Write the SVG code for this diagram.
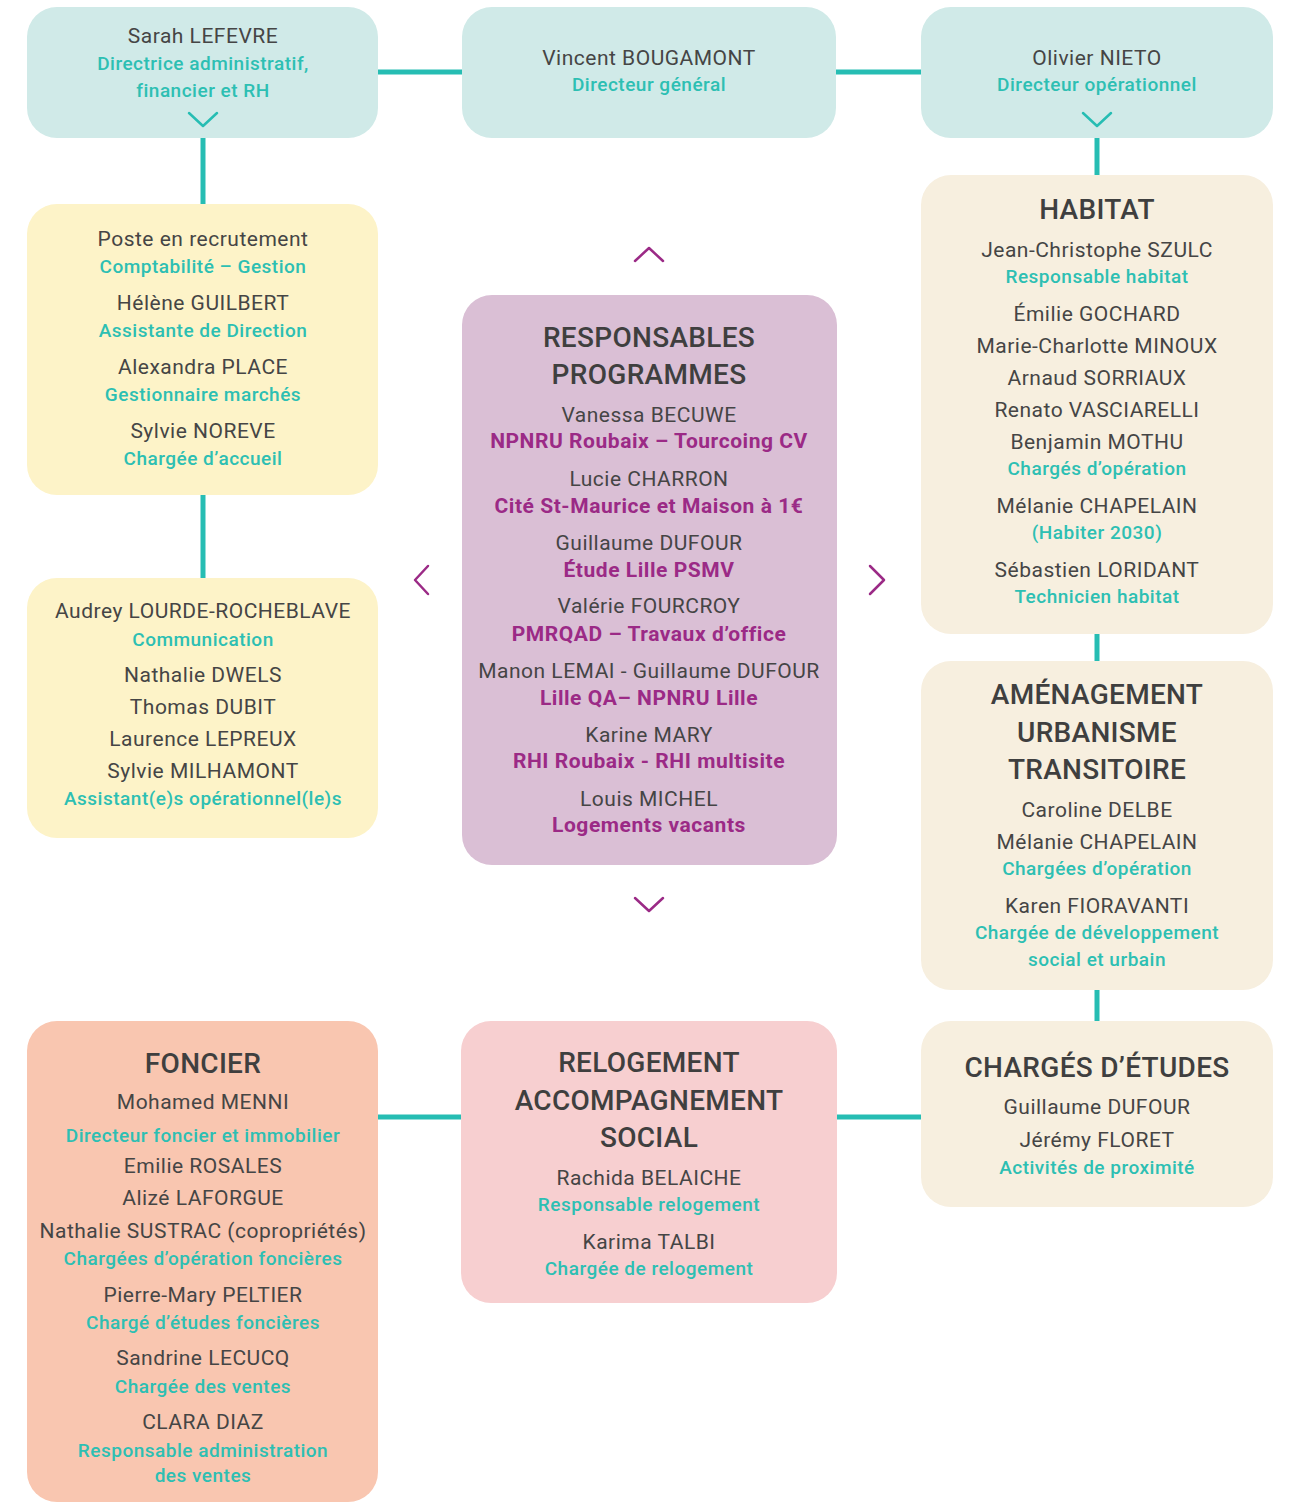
<svg xmlns="http://www.w3.org/2000/svg" width="1291" height="1504" viewBox="0 0 1291 1504">
<style>
text{font-family:Roboto,"Liberation Sans",sans-serif;text-anchor:middle}
.n{font-size:21px;fill:#454545;letter-spacing:0.5px}
.r{font-size:19px;font-weight:500;fill:#2dbfb3;letter-spacing:0.5px}
.p{font-size:21px;font-weight:700;fill:#9b2a86;letter-spacing:0.55px}
.t{font-size:28px;font-weight:500;fill:#3f3f3f;letter-spacing:0.3px}
.c{fill:none;stroke:#26bdb3;stroke-width:5}
.chev{fill:none;stroke-width:2.5;stroke-linecap:round;stroke-linejoin:round}
</style>
<rect width="1291" height="1504" fill="#fff"/>
<g id="connectors" class="c">
<line x1="378" y1="72" x2="462" y2="72"/>
<line x1="836" y1="72" x2="921" y2="72"/>
<line x1="203" y1="138" x2="203" y2="205"/>
<line x1="203" y1="495" x2="203" y2="578"/>
<line x1="1097" y1="138" x2="1097" y2="175"/>
<line x1="1097" y1="634" x2="1097" y2="661"/>
<line x1="1097" y1="990" x2="1097" y2="1021"/>
<line x1="378" y1="1117" x2="461" y2="1117"/>
<line x1="837" y1="1117" x2="921" y2="1117"/>
</g>
<g id="sarah">
<rect x="27" y="7" width="351" height="131" rx="30" fill="#d0eae8"/>
<text class="n" x="203" y="43">Sarah LEFEVRE</text>
<text class="r" x="203" y="70">Directrice administratif,</text>
<text class="r" x="203" y="97">financier et RH</text>
<polyline class="chev" stroke="#26bdb3" points="189,113 203,126 217,113"/>
</g>
<g id="vincent">
<rect x="462" y="7" width="374" height="131" rx="30" fill="#d0eae8"/>
<text class="n" x="649" y="65">Vincent BOUGAMONT</text>
<text class="r" x="649" y="91">Directeur général</text>
</g>
<g id="olivier">
<rect x="921" y="7" width="352" height="131" rx="30" fill="#d0eae8"/>
<text class="n" x="1097" y="65">Olivier NIETO</text>
<text class="r" x="1097" y="91">Directeur opérationnel</text>
<polyline class="chev" stroke="#26bdb3" points="1083,113 1097,126 1111,113"/>
</g>
<g id="admin">
<rect x="27" y="204" width="351" height="291" rx="30" fill="#fdf3c8"/>
<text class="n" x="203" y="246">Poste en recrutement</text>
<text class="r" x="203" y="273">Comptabilité – Gestion</text>
<text class="n" x="203" y="310">Hélène GUILBERT</text>
<text class="r" x="203" y="337">Assistante de Direction</text>
<text class="n" x="203" y="374">Alexandra PLACE</text>
<text class="r" x="203" y="401">Gestionnaire marchés</text>
<text class="n" x="203" y="438">Sylvie NOREVE</text>
<text class="r" x="203" y="465">Chargée d’accueil</text>
</g>
<g id="communication">
<rect x="27" y="578" width="351" height="260" rx="30" fill="#fdf3c8"/>
<text class="n" x="203" y="618">Audrey LOURDE-ROCHEBLAVE</text>
<text class="r" x="203" y="646">Communication</text>
<text class="n" x="203" y="682">Nathalie DWELS</text>
<text class="n" x="203" y="714">Thomas DUBIT</text>
<text class="n" x="203" y="746">Laurence LEPREUX</text>
<text class="n" x="203" y="778">Sylvie MILHAMONT</text>
<text class="r" x="203" y="805">Assistant(e)s opérationnel(le)s</text>
</g>
<g id="programmes">
<rect x="462" y="295" width="375" height="570" rx="30" fill="#dabfd5"/>
<text class="t" x="649" y="347">RESPONSABLES</text>
<text class="t" x="649" y="384">PROGRAMMES</text>
<text class="n" x="649" y="422">Vanessa BECUWE</text>
<text class="p" x="649" y="448">NPNRU Roubaix – Tourcoing CV</text>
<text class="n" x="649" y="486">Lucie CHARRON</text>
<text class="p" x="649" y="513">Cité St-Maurice et Maison à 1€</text>
<text class="n" x="649" y="550">Guillaume DUFOUR</text>
<text class="p" x="649" y="577">Étude Lille PSMV</text>
<text class="n" x="649" y="613">Valérie FOURCROY</text>
<text class="p" x="649" y="641">PMRQAD – Travaux d’office</text>
<text class="n" x="649" y="678">Manon LEMAI - Guillaume DUFOUR</text>
<text class="p" x="649" y="705">Lille QA– NPNRU Lille</text>
<text class="n" x="649" y="742">Karine MARY</text>
<text class="p" x="649" y="768">RHI Roubaix - RHI multisite</text>
<text class="n" x="649" y="806">Louis MICHEL</text>
<text class="p" x="649" y="832">Logements vacants</text>
<polyline class="chev" stroke="#9b2a86" points="635,261 649,248 663,261"/>
<polyline class="chev" stroke="#9b2a86" points="428,566 415,580 428,594"/>
<polyline class="chev" stroke="#9b2a86" points="870,566 884,580 870,594"/>
<polyline class="chev" stroke="#9b2a86" points="635,898 649,911 663,898"/>
</g>
<g id="habitat">
<rect x="921" y="175" width="352" height="459" rx="30" fill="#f7efdf"/>
<text class="t" x="1097" y="219">HABITAT</text>
<text class="n" x="1097" y="257">Jean-Christophe SZULC</text>
<text class="r" x="1097" y="283">Responsable habitat</text>
<text class="n" x="1097" y="321">Émilie GOCHARD</text>
<text class="n" x="1097" y="353">Marie-Charlotte MINOUX</text>
<text class="n" x="1097" y="385">Arnaud SORRIAUX</text>
<text class="n" x="1097" y="417">Renato VASCIARELLI</text>
<text class="n" x="1097" y="449">Benjamin MOTHU</text>
<text class="r" x="1097" y="475">Chargés d’opération</text>
<text class="n" x="1097" y="513">Mélanie CHAPELAIN</text>
<text class="r" x="1097" y="539">(Habiter 2030)</text>
<text class="n" x="1097" y="577">Sébastien LORIDANT</text>
<text class="r" x="1097" y="603">Technicien habitat</text>
</g>
<g id="amenagement">
<rect x="921" y="661" width="352" height="329" rx="30" fill="#f7efdf"/>
<text class="t" x="1097" y="704">AMÉNAGEMENT</text>
<text class="t" x="1097" y="742">URBANISME</text>
<text class="t" x="1097" y="779">TRANSITOIRE</text>
<text class="n" x="1097" y="817">Caroline DELBE</text>
<text class="n" x="1097" y="849">Mélanie CHAPELAIN</text>
<text class="r" x="1097" y="875">Chargées d’opération</text>
<text class="n" x="1097" y="913">Karen FIORAVANTI</text>
<text class="r" x="1097" y="939">Chargée de développement</text>
<text class="r" x="1097" y="966">social et urbain</text>
</g>
<g id="etudes">
<rect x="921" y="1021" width="352" height="186" rx="30" fill="#f7efdf"/>
<text class="t" x="1097" y="1077">CHARGÉS D’ÉTUDES</text>
<text class="n" x="1097" y="1114">Guillaume DUFOUR</text>
<text class="n" x="1097" y="1147">Jérémy FLORET</text>
<text class="r" x="1097" y="1174">Activités de proximité</text>
</g>
<g id="foncier">
<rect x="27" y="1021" width="351" height="481" rx="30" fill="#f9c6b0"/>
<text class="t" x="203" y="1073">FONCIER</text>
<text class="n" x="203" y="1109">Mohamed MENNI</text>
<text class="r" x="203" y="1142">Directeur foncier et immobilier</text>
<text class="n" x="203" y="1173">Emilie ROSALES</text>
<text class="n" x="203" y="1205">Alizé LAFORGUE</text>
<text class="n" x="203" y="1238">Nathalie SUSTRAC (copropriétés)</text>
<text class="r" x="203" y="1265">Chargées d’opération foncières</text>
<text class="n" x="203" y="1302">Pierre-Mary PELTIER</text>
<text class="r" x="203" y="1329">Chargé d’études foncières</text>
<text class="n" x="203" y="1365">Sandrine LECUCQ</text>
<text class="r" x="203" y="1393">Chargée des ventes</text>
<text class="n" x="203" y="1429">CLARA DIAZ</text>
<text class="r" x="203" y="1457">Responsable administration</text>
<text class="r" x="203" y="1482">des ventes</text>
</g>
<g id="relogement">
<rect x="461" y="1021" width="376" height="282" rx="30" fill="#f7cfd0"/>
<text class="t" x="649" y="1072">RELOGEMENT</text>
<text class="t" x="649" y="1110">ACCOMPAGNEMENT</text>
<text class="t" x="649" y="1147">SOCIAL</text>
<text class="n" x="649" y="1185">Rachida BELAICHE</text>
<text class="r" x="649" y="1211">Responsable relogement</text>
<text class="n" x="649" y="1249">Karima TALBI</text>
<text class="r" x="649" y="1275">Chargée de relogement</text>
</g>
</svg>
